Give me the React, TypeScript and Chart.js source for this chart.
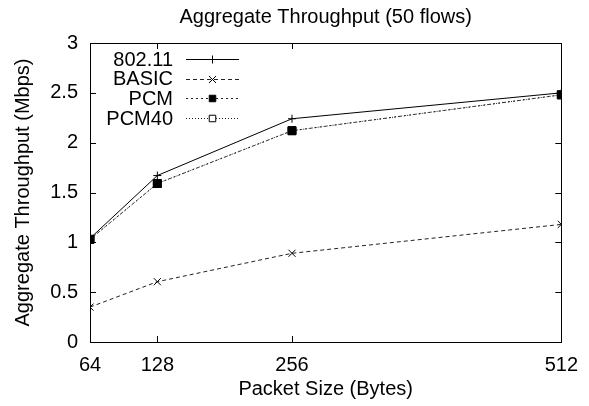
import React, { useEffect, useRef } from 'react';
import { Chart, registerables } from 'chart.js';
import { drawPoint } from 'chart.js/helpers';

Chart.register(...registerables);

const packetSizes = [64, 128, 256, 512];
const xTickValues = [64, 128, 256, 512];
const series80211 = [1.04, 1.67, 2.24, 2.5];
const seriesBasic = [0.35, 0.605, 0.89, 1.18];
const seriesPcm = [1.03, 1.59, 2.12, 2.48];
const seriesPcm40 = [1.03, 1.59, 2.12, 2.48];
const seriesLabels = ['802.11', 'BASIC', 'PCM', 'PCM40'];
const yMin = 0;
const yMax = 3;
const yStep = 0.5;

const chartTitle = 'Aggregate Throughput (50 flows)';
const xTitle = 'Packet Size (Bytes)';
const yTitle = 'Aggregate Throughput (Mbps)';

const FONT = '"Liberation Sans", Arial, Helvetica, sans-serif';
const FS = 20;

const framePlugin = {
  id: 'frameTicks',
  afterDraw(chart: any) {
    const { ctx, chartArea } = chart;
    const { left, right, top, bottom } = chartArea;
    const xs = chart.scales.x;
    const ys = chart.scales.y;
    const tl = 6;
    ctx.save();
    ctx.strokeStyle = '#000';
    ctx.lineWidth = 1;
    ctx.beginPath();
    xs.ticks.forEach((t: any) => {
      const px = Math.round(xs.getPixelForValue(t.value)) + 0.5;
      ctx.moveTo(px, bottom);
      ctx.lineTo(px, bottom - tl);
      ctx.moveTo(px, top);
      ctx.lineTo(px, top + tl);
    });
    ys.ticks.forEach((t: any) => {
      const py = Math.round(ys.getPixelForValue(t.value)) + 0.5;
      ctx.moveTo(left, py);
      ctx.lineTo(left + tl, py);
      ctx.moveTo(right, py);
      ctx.lineTo(right - tl, py);
    });
    ctx.stroke();
    ctx.strokeRect(Math.round(left) + 0.5, Math.round(top) + 0.5, Math.round(right - left), Math.round(bottom - top));

    // title centred over the plot area
    ctx.font = `${FS}px ${FONT}`;
    ctx.fillStyle = '#000';
    ctx.textAlign = 'center';
    ctx.textBaseline = 'middle';
    ctx.fillText(chartTitle, (left + right) / 2, 17);

    // legend
    const textRight = left + 83;
    const lineStart = left + 96;
    const lineEnd = left + 149;
    const startY = top + 16;
    const rowH = 19.7;
    ctx.textAlign = 'right';
    chart.data.datasets.forEach((ds: any, i: number) => {
      const y = startY + i * rowH;
      ctx.fillStyle = '#000';
      ctx.fillText(ds.label, textRight, y + 1);
      ctx.save();
      ctx.strokeStyle = ds.borderColor;
      ctx.lineWidth = ds.borderWidth;
      ctx.setLineDash(ds.borderDash || []);
      ctx.beginPath();
      ctx.moveTo(lineStart, Math.round(y) + 0.5);
      ctx.lineTo(lineEnd, Math.round(y) + 0.5);
      ctx.stroke();
      ctx.setLineDash([]);
      ctx.fillStyle = ds.pointBackgroundColor;
      ctx.strokeStyle = ds.pointBorderColor;
      ctx.lineWidth = ds.pointBorderWidth;
      drawPoint(ctx, { pointStyle: ds.pointStyle, radius: ds.legendRadius, rotation: 0, borderWidth: ds.pointBorderWidth } as any, (lineStart + lineEnd) / 2, Math.round(y) + 0.5);
      ctx.restore();
    });
    ctx.restore();
  },
};

export default function App() {
  const canvasRef = useRef<HTMLCanvasElement | null>(null);

  useEffect(() => {
    document.body.style.margin = '0';
    const canvas = canvasRef.current;
    if (!canvas) return;
    const mk = (vals: number[]) => packetSizes.map((x, i) => ({ x, y: vals[i] }));
    const tickFont = { family: FONT, size: FS, lineHeight: 1.2 };
    const chart = new Chart(canvas, {
      type: 'line',
      data: {
        datasets: [
          {
            label: seriesLabels[0],
            data: mk(series80211),
            borderColor: '#000',
            borderWidth: 1,
            pointStyle: 'cross',
            pointRadius: 4,
            legendRadius: 4,
            pointBorderColor: '#000',
            pointBackgroundColor: '#000',
            pointBorderWidth: 1,
            order: 1,
          } as any,
          {
            label: seriesLabels[1],
            data: mk(seriesBasic),
            borderColor: '#222',
            borderWidth: 1,
            borderDash: [4, 3],
            pointStyle: 'crossRot',
            pointRadius: 5,
            legendRadius: 5,
            pointBorderColor: '#000',
            pointBackgroundColor: '#000',
            pointBorderWidth: 1,
            order: 2,
          } as any,
          {
            label: seriesLabels[2],
            data: mk(seriesPcm),
            borderColor: '#222',
            borderWidth: 1,
            borderDash: [2, 3],
            pointStyle: 'rect',
            pointRadius: 5.6,
            legendRadius: 4.6,
            pointBorderColor: '#000',
            pointBackgroundColor: '#000',
            pointBorderWidth: 1,
            order: 3,
          } as any,
          {
            label: seriesLabels[3],
            data: mk(seriesPcm40),
            borderColor: '#222',
            borderWidth: 1,
            borderDash: [1, 2],
            pointStyle: 'rect',
            pointRadius: 5.6,
            legendRadius: 4.6,
            pointBorderColor: '#000',
            pointBackgroundColor: '#fff',
            pointBorderWidth: 1,
            order: 4,
          } as any,
        ],
      },
      options: {
        responsive: false,
        animation: false,
        layout: { padding: { left: 0, right: 24, top: 43, bottom: 0 } },
        plugins: {
          legend: { display: false },
          tooltip: { enabled: false },
          title: { display: false },
        },
        scales: {
          x: {
            type: 'linear',
            min: 64,
            max: 512,
            afterFit: (s: any) => { s.height = 64; },
            afterBuildTicks: (s: any) => { s.ticks = xTickValues.map((v) => ({ value: v })); },
            grid: { display: false, drawTicks: false },
            border: { display: false },
            ticks: {
              color: '#000',
              font: tickFont,
              padding: 11,
              maxRotation: 0,
              autoSkip: false,
              callback: (v: any) => String(v),
            },
            title: {
              display: true,
              text: xTitle,
              color: '#000',
              font: tickFont,
              padding: { top: 0, bottom: 5 },
            },
          },
          y: {
            type: 'linear',
            min: yMin,
            max: yMax,
            afterFit: (s: any) => { s.width = 90; },
            grid: { display: false, drawTicks: false },
            border: { display: false },
            ticks: {
              stepSize: yStep,
              color: '#000',
              font: tickFont,
              padding: 12,
              callback: (v: any) => String(v),
            },
            title: {
              display: true,
              text: yTitle,
              color: '#000',
              font: tickFont,
              padding: { top: 11, bottom: 0 },
            },
          },
        },
      },
      plugins: [framePlugin],
    });
    return () => chart.destroy();
  }, []);

  return (
    <div style={{ width: 589, height: 406, background: '#fff' }}>
      <canvas ref={canvasRef} width={589} height={406} style={{ width: 589, height: 406, display: 'block' }} />
    </div>
  );
}
